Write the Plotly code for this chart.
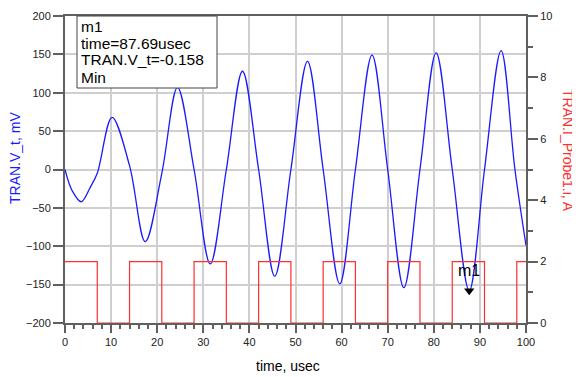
import plotly.graph_objects as go

# ---- data ----
volt_time = [0, 1.5, 3.5, 5.5, 7, 10.2, 14, 17.4, 21, 24.4, 28, 31.5, 35, 38.5, 42,
             45.5, 49, 52.6, 56, 59.6, 63, 66.6, 70, 73.5, 77, 80.5, 84, 87.69, 91,
             94.6, 97.6, 100]
volt_mv = [0, -27, -42, -23, -5, 68, 5, -94, -5, 107, 0, -123, 0, 128, 0,
           -139, 0, 141, 0, -149, 0, 149, 0, -154, 0, 152, 0, -158, 0,
           155, 0, -99]

pulse_time = [0, 7, 14, 21, 28, 35, 42, 49, 56, 63, 70, 77, 84, 91, 98, 100]
pulse_amp = [2, 0, 2, 0, 2, 0, 2, 0, 2, 0, 2, 0, 2, 0, 2, 2]

marker_time = [87.69]
marker_mv = [-158]
marker_lines = ["m1", "time=87.69usec", "TRAN.V_t=-0.158", "Min"]

x_ticks = [0, 10, 20, 30, 40, 50, 60, 70, 80, 90, 100]
y_ticks = [-200, -150, -100, -50, 0, 50, 100, 150, 200]
y2_ticks = [0, 2, 4, 6, 8, 10]

FONT = "Liberation Sans, Arial, sans-serif"
AX = "#606060"

# page body has an 8px margin; the plot area should sit at page x 65..526, y 16..323
BODY = 8
fig = go.Figure()
fig.add_trace(go.Scatter(x=pulse_time, y=pulse_amp, mode="lines", yaxis="y2",
                         line=dict(color="#ff3030", width=1.2, shape="hv"),
                         showlegend=False, hoverinfo="skip"))
fig.add_trace(go.Scatter(x=volt_time, y=volt_mv, mode="lines",
                         line=dict(color="#1a1aff", width=1.3, shape="spline", smoothing=1),
                         showlegend=False))
fig.add_trace(go.Scatter(x=marker_time, y=marker_mv, mode="markers",
                         marker=dict(symbol="triangle-down", size=9, color="black"),
                         showlegend=False))

fig.update_layout(
    width=580 - BODY, height=377 - BODY,
    margin=dict(l=65 - BODY, r=54, t=16 - BODY, b=54, autoexpand=False),
    paper_bgcolor="white", plot_bgcolor="white",
    font=dict(family=FONT, size=11, color="#222"),
    xaxis=dict(range=[0, 100], tickvals=x_ticks, ticks="outside", ticklen=8,
               tickcolor=AX, tickwidth=1.5, showline=True, linecolor=AX, linewidth=2,
               mirror=True, showgrid=True, gridcolor="#cfcfcf", gridwidth=1.5,
               zeroline=False,
               minor=dict(dtick=2, ticks="outside", ticklen=4, tickcolor=AX, showgrid=False)),
    yaxis=dict(range=[-200, 200], tickvals=y_ticks, ticks="outside", ticklen=10,
               tickcolor=AX, tickwidth=1.5, showline=True, linecolor=AX, linewidth=2,
               showgrid=True, gridcolor="#cfcfcf", gridwidth=1.5, zeroline=False),
    yaxis2=dict(range=[0, 10], tickvals=y2_ticks, overlaying="y", side="right",
                ticks="outside", ticklen=10, tickcolor=AX, tickwidth=1.5,
                showline=True, linecolor=AX, linewidth=2, showgrid=False, zeroline=False,
                minor=dict(dtick=1, ticks="outside", ticklen=5, tickcolor=AX)),
)

def px_to_paper_x(px):
    return (px - 65) / 461.0

def px_to_paper_y(py):
    return (323 - py) / 307.0

# axis titles
fig.add_annotation(text="time, usec", xref="paper", yref="paper",
                   x=px_to_paper_x(288), y=px_to_paper_y(366), showarrow=False,
                   xanchor="center", yanchor="middle",
                   font=dict(family=FONT, size=14, color="black"))
fig.add_annotation(text="TRAN.V_t, mV", xref="paper", yref="paper",
                   x=px_to_paper_x(15), y=px_to_paper_y(158), showarrow=False,
                   textangle=-90, xanchor="center", yanchor="middle", borderpad=0,
                   font=dict(family=FONT, size=14, color="#1a1aff"))
fig.add_annotation(text="TRAN.I_Probe1.i, A", xref="paper", yref="paper",
                   x=px_to_paper_x(568), y=px_to_paper_y(150), showarrow=False,
                   textangle=90, xanchor="center", yanchor="middle",
                   font=dict(family=FONT, size=14, color="#ff3030"))

# marker readout box
fig.add_shape(type="rect", xref="paper", yref="paper",
              x0=px_to_paper_x(77), x1=px_to_paper_x(217),
              y0=px_to_paper_y(88), y1=1,
              line=dict(color="#444", width=1), fillcolor="white", layer="above")
line_centres = [26, 43, 60, 77]
for txt, yc in zip(marker_lines, line_centres):
    fig.add_annotation(text=txt, xref="paper", yref="paper",
                       x=px_to_paper_x(80), y=px_to_paper_y(yc), showarrow=False,
                       xanchor="left", yanchor="middle", borderpad=0,
                       font=dict(family=FONT, size=15.5, color="black"))

# marker label
fig.add_annotation(text=marker_lines[0], x=marker_time[0], y=marker_mv[0],
                   showarrow=False, yshift=20, xanchor="center", yanchor="middle",
                   font=dict(family=FONT, size=16, color="black"))

fig.write_html("out.html")
